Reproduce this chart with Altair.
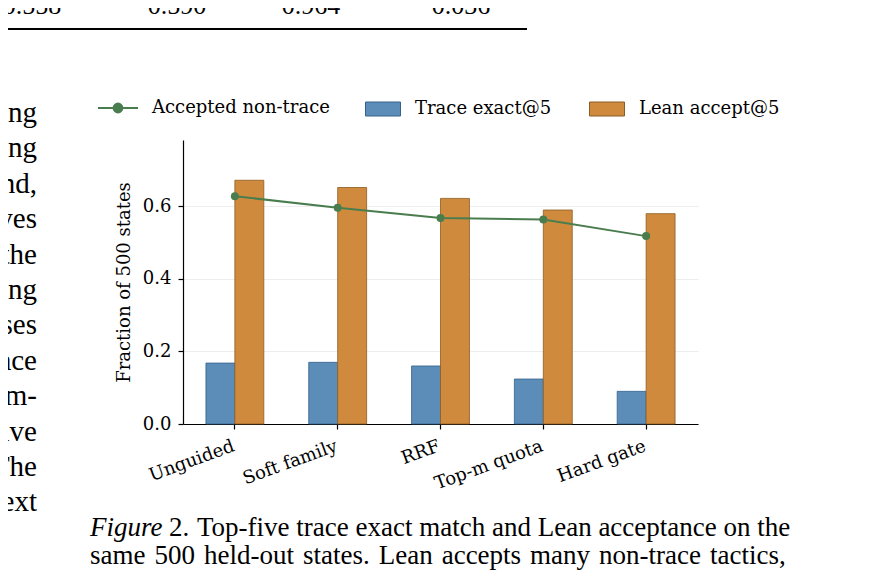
import altair as alt
import pandas as pd

# chart values
methods = ["Unguided", "Soft family", "RRF", "Top-m quota", "Hard gate"]
trace_exact = [0.168, 0.170, 0.160, 0.124, 0.090]
lean_accept = [0.672, 0.652, 0.622, 0.590, 0.580]
accepted_non_trace = [0.628, 0.596, 0.568, 0.564, 0.518]

bar_series = ["Trace exact@5", "Lean accept@5"]
line_series = ["Accepted non-trace"]

# page text around the figure
table_row = ["0.558", "0.590", "0.964", "0.036"]
side_words = ["ing", "ing", "ond,", "ves", "the", "ing", "ses", "ace", "im-", "ive", "The", "ext"]
caption_label = ["Figure", "2."]
caption_line1 = "Top-five trace exact match and Lean acceptance on the"
caption_line2 = ["same", "500", "held-out", "states.\u00a0\u200aLean", "accepts", "many",
                 "non-trace", "tactics,"]

BLUE, ORANGE, GREEN = "#5b8db8", "#d08a3e", "#4a7d4e"
BLUE_EDGE, ORANGE_EDGE = "#34628c", "#8c5c22"
SERIF = "DejaVu Serif"
TIMES = "Liberation Serif"
FS = 18

bar_df = pd.DataFrame({
    "method": methods * 2,
    "metric": [bar_series[0]] * len(methods) + [bar_series[1]] * len(methods),
    "value": trace_exact + lean_accept,
})
line_df = pd.DataFrame({
    "method": methods,
    "series": line_series * len(methods),
    "value": accepted_non_trace,
})

x_enc = alt.X(
    "method:N", sort=methods, title=None,
    scale=alt.Scale(paddingInner=0.437, paddingOuter=0.223),
    axis=alt.Axis(labelAngle=-20, labelAlign="right", labelBaseline="top",
                  labelPadding=8, labelOffset=-4, tickSize=5, grid=False),
)
y_enc = alt.Y(
    "value:Q", title="Fraction of 500 states",
    scale=alt.Scale(domain=[0, 0.783], nice=False),
    axis=alt.Axis(values=[0, 0.2, 0.4, 0.6], format=".1f", tickSize=5,
                  labelPadding=7, titlePadding=9, grid=True),
)

bar_legend = dict(
    title=None, orient="none", legendX=182, legendY=-49, direction="horizontal",
    symbolType="M-1,-0.4H1V0.4H-1Z", symbolSize=1225, symbolStrokeWidth=1,
    labelOffset=14, columnPadding=35, labelLimit=300,
)
bars = alt.Chart(bar_df).mark_bar(strokeWidth=1, strokeOpacity=0.8).encode(
    x=x_enc,
    xOffset=alt.XOffset("metric:N", sort=bar_series,
                        scale=alt.Scale(paddingInner=0, paddingOuter=0)),
    y=y_enc,
    fill=alt.Fill("metric:N", scale=alt.Scale(domain=bar_series, range=[BLUE, ORANGE]),
                  legend=alt.Legend(**bar_legend)),
    stroke=alt.Stroke("metric:N", scale=alt.Scale(domain=bar_series, range=[BLUE_EDGE, ORANGE_EDGE]),
                      legend=alt.Legend(**bar_legend)),
)

line = alt.Chart(line_df).mark_line(
    strokeWidth=2, point=alt.OverlayMarkDef(filled=True, size=64)
).encode(
    x=x_enc,
    y=y_enc,
    color=alt.Color("series:N", scale=alt.Scale(domain=line_series, range=[GREEN]),
                    legend=alt.Legend(
                        title=None, orient="none", legendX=-86, legendY=-53,
                        symbolType="M-1,0H1M-0.22,0A0.22,0.22 0 1,1 0.22,0A0.22,0.22 0 1,1 -0.22,0",
                        symbolSize=1600, symbolStrokeWidth=2, symbolFillColor=GREEN,
                        labelOffset=13, labelLimit=300)),
)


def page_text(text, x, y, size=27, align="left", style="normal", line_height=None):
    kw = dict(font=TIMES, fontSize=size, align=align, baseline="alphabetic",
              fontStyle=style, color="black", lineBreak="\n")
    if line_height:
        kw["lineHeight"] = line_height
    return alt.Chart(pd.DataFrame({"t": [text]})).mark_text(**kw).encode(
        text="t:N", x=alt.value(x), y=alt.value(y))


# plot area starts at page (183, 140)
extras = [
    page_text("\n".join(side_words), -146, -18, size=29, align="right", line_height=35.4),
    page_text(caption_label[0], -93, 396, style="italic"),
    page_text(caption_label[1], -14, 396),
    page_text(caption_line1, 14, 396),
    page_text(" \u200a".join(caption_line2), -93, 424),
]
for txt, px in zip(table_row, [-151, -6, 128, 278]):
    extras.append(page_text(txt, px, -126, size=26, align="center"))
extras.append(
    alt.Chart(pd.DataFrame({"a": [0]})).mark_rule(color="black", strokeWidth=2).encode(
        x=alt.value(-175), x2=alt.value(344), y=alt.value(-111))
)

chart = alt.layer(bars, line, *extras).resolve_scale(
    color="independent", fill="independent", stroke="independent"
).properties(
    width=515, height=284,
    autosize=alt.AutoSizeParams(type="none"),
    padding={"left": 175, "top": 132, "right": 177, "bottom": 146},
    background="white",
).configure_view(stroke=None).configure_axis(
    labelFont=SERIF, labelFontSize=FS, labelColor="black",
    titleFont=SERIF, titleFontSize=FS, titleColor="black", titleFontWeight="normal",
    domainColor="black", domainWidth=1.2, tickColor="black", tickWidth=1.2,
    gridColor="#e8e8e8", gridWidth=0.8,
).configure_legend(
    labelFont=SERIF, labelFontSize=FS, labelColor="black",
)

chart.save("out.html", embed_options={"renderer": "svg", "actions": False})
